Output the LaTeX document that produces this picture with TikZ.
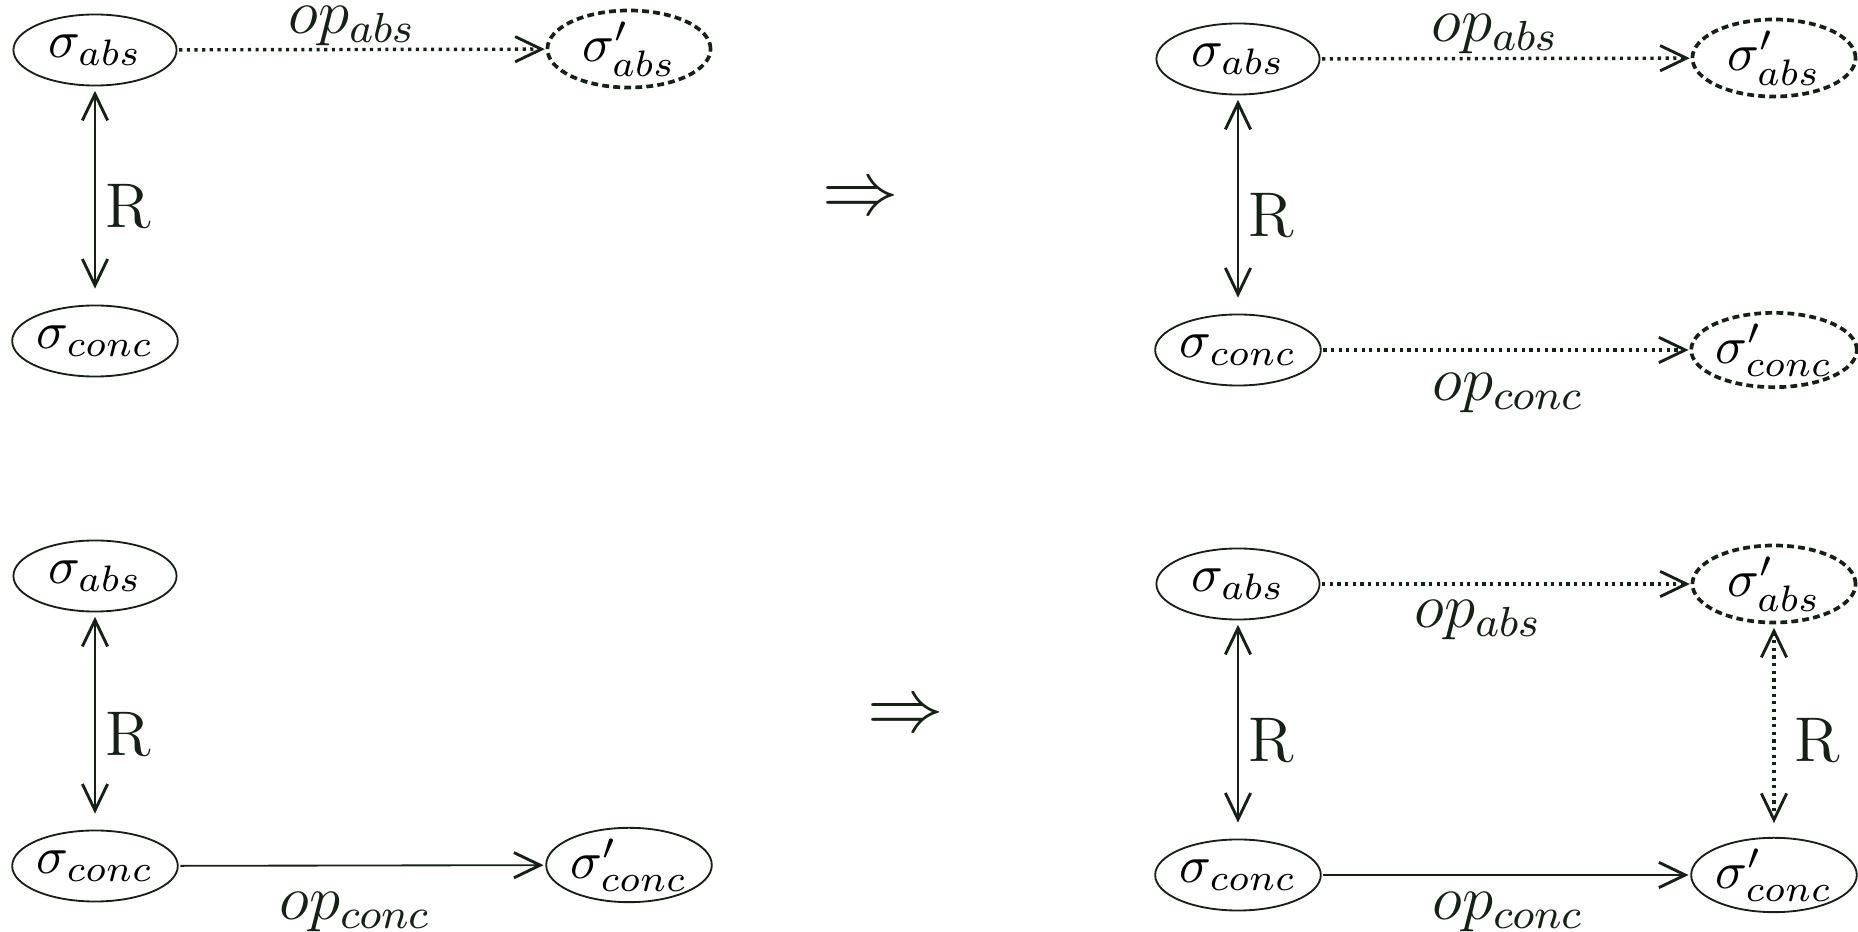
\RequirePackage{fix-cm}
\documentclass[tikz,border=0pt]{standalone}
\usetikzlibrary{arrows.meta,shapes.geometric}
\definecolor{ink}{RGB}{22,32,22}
\begin{document}
\begin{tikzpicture}[x=0.19pt,y=-0.19pt,
  state/.style={ellipse,draw=ink,line width=0.35pt,minimum width=31pt,minimum height=13.5pt,inner sep=0pt,outer sep=0pt},
  pending/.style={state,line width=0.7pt,dash pattern=on 1.3pt off 0.8pt},
  barb/.tip={Straight Barb[length=5pt,width=4.8pt,line width=0.55pt]},
  concrete/.style={draw=ink,line width=0.35pt,-{barb},shorten <=0.5pt,shorten >=0.5pt},
  abstract/.style={draw=ink,line width=0.65pt,dash pattern=on 0.6pt off 0.85pt,-{barb},shorten <=0.5pt,shorten >=0.5pt},
  relate/.style={draw=ink,line width=0.35pt,{barb}-{barb},shorten <=1pt,shorten >=3.2pt},
  relatedot/.style={draw=ink,line width=0.65pt,dash pattern=on 0.6pt off 0.85pt,{barb}-{barb},shorten <=1pt,shorten >=2.8pt},
  oplabel/.style={font=\large,text=ink,inner sep=0pt},
  rlabel/.style={font=\large,text=ink,inner sep=0pt},
  implies/.style={font=\fontsize{14.5}{16}\selectfont,text=ink,inner sep=0pt}]
\useasboundingbox (0,0) rectangle (1858,932);

% top left: abstract step only
\node[state]   (a1) at (95,50)  {$\sigma_{abs}$};
\node[pending] (b1) at (629,49) {$\sigma'_{abs}$};
\node[state]   (c1) at (95,341) {$\sigma_{conc}$};
\draw[abstract] (a1) -- (b1);
\draw[relate] (a1) -- (c1);
\node[oplabel] (l1) at (352,26) {$op_{abs}$};
\node[rlabel]  (r1) at (128,207) {R};

\node[implies] (t1) at (861,201) {$\Rightarrow$};

% top right: matching concrete step
\node[state]   (a2) at (1238,59)  {$\sigma_{abs}$};
\node[pending] (b2) at (1774,58)  {$\sigma'_{abs}$};
\node[state]   (c2) at (1238,350) {$\sigma_{conc}$};
\node[pending] (d2) at (1774,350) {$\sigma'_{conc}$};
\draw[abstract] (a2) -- (b2);
\draw[abstract] (c2) -- (d2);
\draw[relate] (a2) -- (c2);
\node[oplabel] (l2) at (1495,34)  {$op_{abs}$};
\node[oplabel] (l3) at (1508,393) {$op_{conc}$};
\node[rlabel]  (r2) at (1271,216) {R};

% bottom left: concrete step only
\node[state] (a3) at (95,576)  {$\sigma_{abs}$};
\node[state] (c3) at (95,866)  {$\sigma_{conc}$};
\node[state] (d3) at (629,865) {$\sigma'_{conc}$};
\draw[concrete] (c3) -- (d3);
\draw[relate] (a3) -- (c3);
\node[oplabel] (l4) at (355,912) {$op_{conc}$};
\node[rlabel]  (r3) at (128,735) {R};

\node[implies] (t2) at (906,718) {$\Rightarrow$};

% bottom right: matching abstract step closes the square
\node[state]   (a4) at (1238,584) {$\sigma_{abs}$};
\node[pending] (b4) at (1774,584) {$\sigma'_{abs}$};
\node[state]   (c4) at (1238,875) {$\sigma_{conc}$};
\node[state]   (d4) at (1774,875) {$\sigma'_{conc}$};
\draw[abstract] (a4) -- (b4);
\draw[concrete] (c4) -- (d4);
\draw[relate] (a4) -- (c4);
\draw[relatedot] (b4) -- (d4);
\node[oplabel] (l5) at (1478,620) {$op_{abs}$};
\node[oplabel] (l6) at (1508,912) {$op_{conc}$};
\node[rlabel]  (r4) at (1271,741) {R};
\node[rlabel]  (r5) at (1817,741) {R};
\end{tikzpicture}
\end{document}
